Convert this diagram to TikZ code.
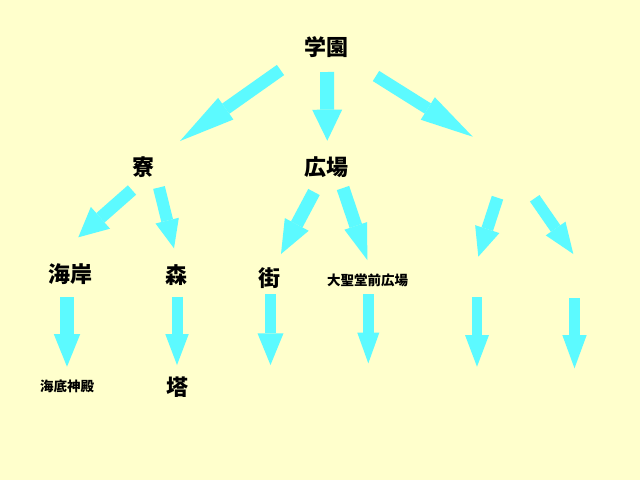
\documentclass[tikz,border=0pt]{standalone}
\usepackage{fontspec}
\newfontfamily\jp{Noto Sans CJK JP}
\usetikzlibrary{arrows.meta}
\definecolor{bg}{RGB}{255,255,204}
\definecolor{arrc}{RGB}{92,250,255}
\tikzset{
  lbl/.style={font=\jp\bfseries\fontsize{22}{22}\selectfont, inner sep=0pt, text=black},
  slbl/.style={font=\jp\bfseries\fontsize{13.5}{13.5}\selectfont, inner sep=0pt, text=black},
  barrow/.style n args={3}{draw=arrc, line width=#1, line cap=butt,
    -{Triangle[length=#3, width=#2, line width=0pt]}},
}
\begin{document}
\begin{tikzpicture}[x=1pt,y=-1pt]
  \fill[bg] (0,0) rectangle (640,480);
  \useasboundingbox (0,0) rectangle (640,480);

  % labels
  \node[lbl] (gakuen) at (326.5,47.5) {学園};
  \node[lbl] (ryo) at (143,167.5) {寮};
  \node[lbl] (hiroba) at (326,167.5) {広場};
  \node[lbl] (kaigan) at (70,273.7) {海岸};
  \node[lbl] (mori) at (176.7,275) {森};
  \node[lbl] (machi) at (269.3,277.8) {街};
  \node[slbl] (daiseido) at (367.7,280.8) {大聖堂前広場};
  \node[slbl] (kaitei) at (67.2,386.3) {海底神殿};
  \node[lbl] (tou) at (177.5,387.5) {塔};

  % arrow ends
  \coordinate (a1s) at (280.5,70);   \coordinate (a1e) at (180,141);
  \coordinate (a2s) at (327,72);     \coordinate (a2e) at (327.3,140.7);
  \coordinate (a3s) at (376,76);     \coordinate (a3e) at (472.7,136.7);
  \coordinate (b1s) at (132,190);    \coordinate (b1e) at (78.3,237.3);
  \coordinate (b2s) at (159,187.5);  \coordinate (b2e) at (174,248.3);
  \coordinate (b3s) at (314,192);    \coordinate (b3e) at (281,254);
  \coordinate (b4s) at (343,188);    \coordinate (b4e) at (367.3,260);
  \coordinate (b5s) at (497.5,197.7);\coordinate (b5e) at (478.3,256.7);
  \coordinate (b6s) at (534.7,198.3);\coordinate (b6e) at (573.3,254);
  \coordinate (c1s) at (67,297.3);   \coordinate (c1e) at (67,366.7);
  \coordinate (c2s) at (177,296.7);  \coordinate (c2e) at (177,365);
  \coordinate (c3s) at (270.5,294);  \coordinate (c3e) at (270.5,365);
  \coordinate (c4s) at (368.3,294);  \coordinate (c4e) at (368.3,363.3);
  \coordinate (c5s) at (477,297.3);  \coordinate (c5e) at (477,366.7);
  \coordinate (c6s) at (574.5,298.3);\coordinate (c6e) at (574.5,368.3);

  % arrows
  \draw[barrow={12.5pt}{26.5pt}{56pt}] (a1s) -- (a1e);
  \draw[barrow={14pt}{30pt}{31pt}] (a2s) -- (a2e);
  \draw[barrow={12pt}{26.5pt}{53pt}] (a3s) -- (a3e);

  \draw[barrow={12.5pt}{29pt}{29.5pt}] (b1s) -- (b1e);
  \draw[barrow={12pt}{24pt}{28.5pt}] (b2s) -- (b2e);
  \draw[barrow={13pt}{27pt}{33.5pt}] (b3s) -- (b3e);
  \draw[barrow={13pt}{24pt}{36pt}] (b4s) -- (b4e);
  \draw[barrow={12pt}{25.5pt}{29pt}] (b5s) -- (b5e);
  \draw[barrow={11.5pt}{24pt}{31pt}] (b6s) -- (b6e);

  \draw[barrow={14pt}{26.5pt}{32.7pt}] (c1s) -- (c1e);
  \draw[barrow={11pt}{23.5pt}{31pt}] (c2s) -- (c2e);
  \draw[barrow={10.5pt}{26pt}{31.7pt}] (c3s) -- (c3e);
  \draw[barrow={10.7pt}{22pt}{30.6pt}] (c4s) -- (c4e);
  \draw[barrow={10.6pt}{24pt}{31.7pt}] (c5s) -- (c5e);
  \draw[barrow={11.7pt}{24.4pt}{33.3pt}] (c6s) -- (c6e);
\end{tikzpicture}
\end{document}
